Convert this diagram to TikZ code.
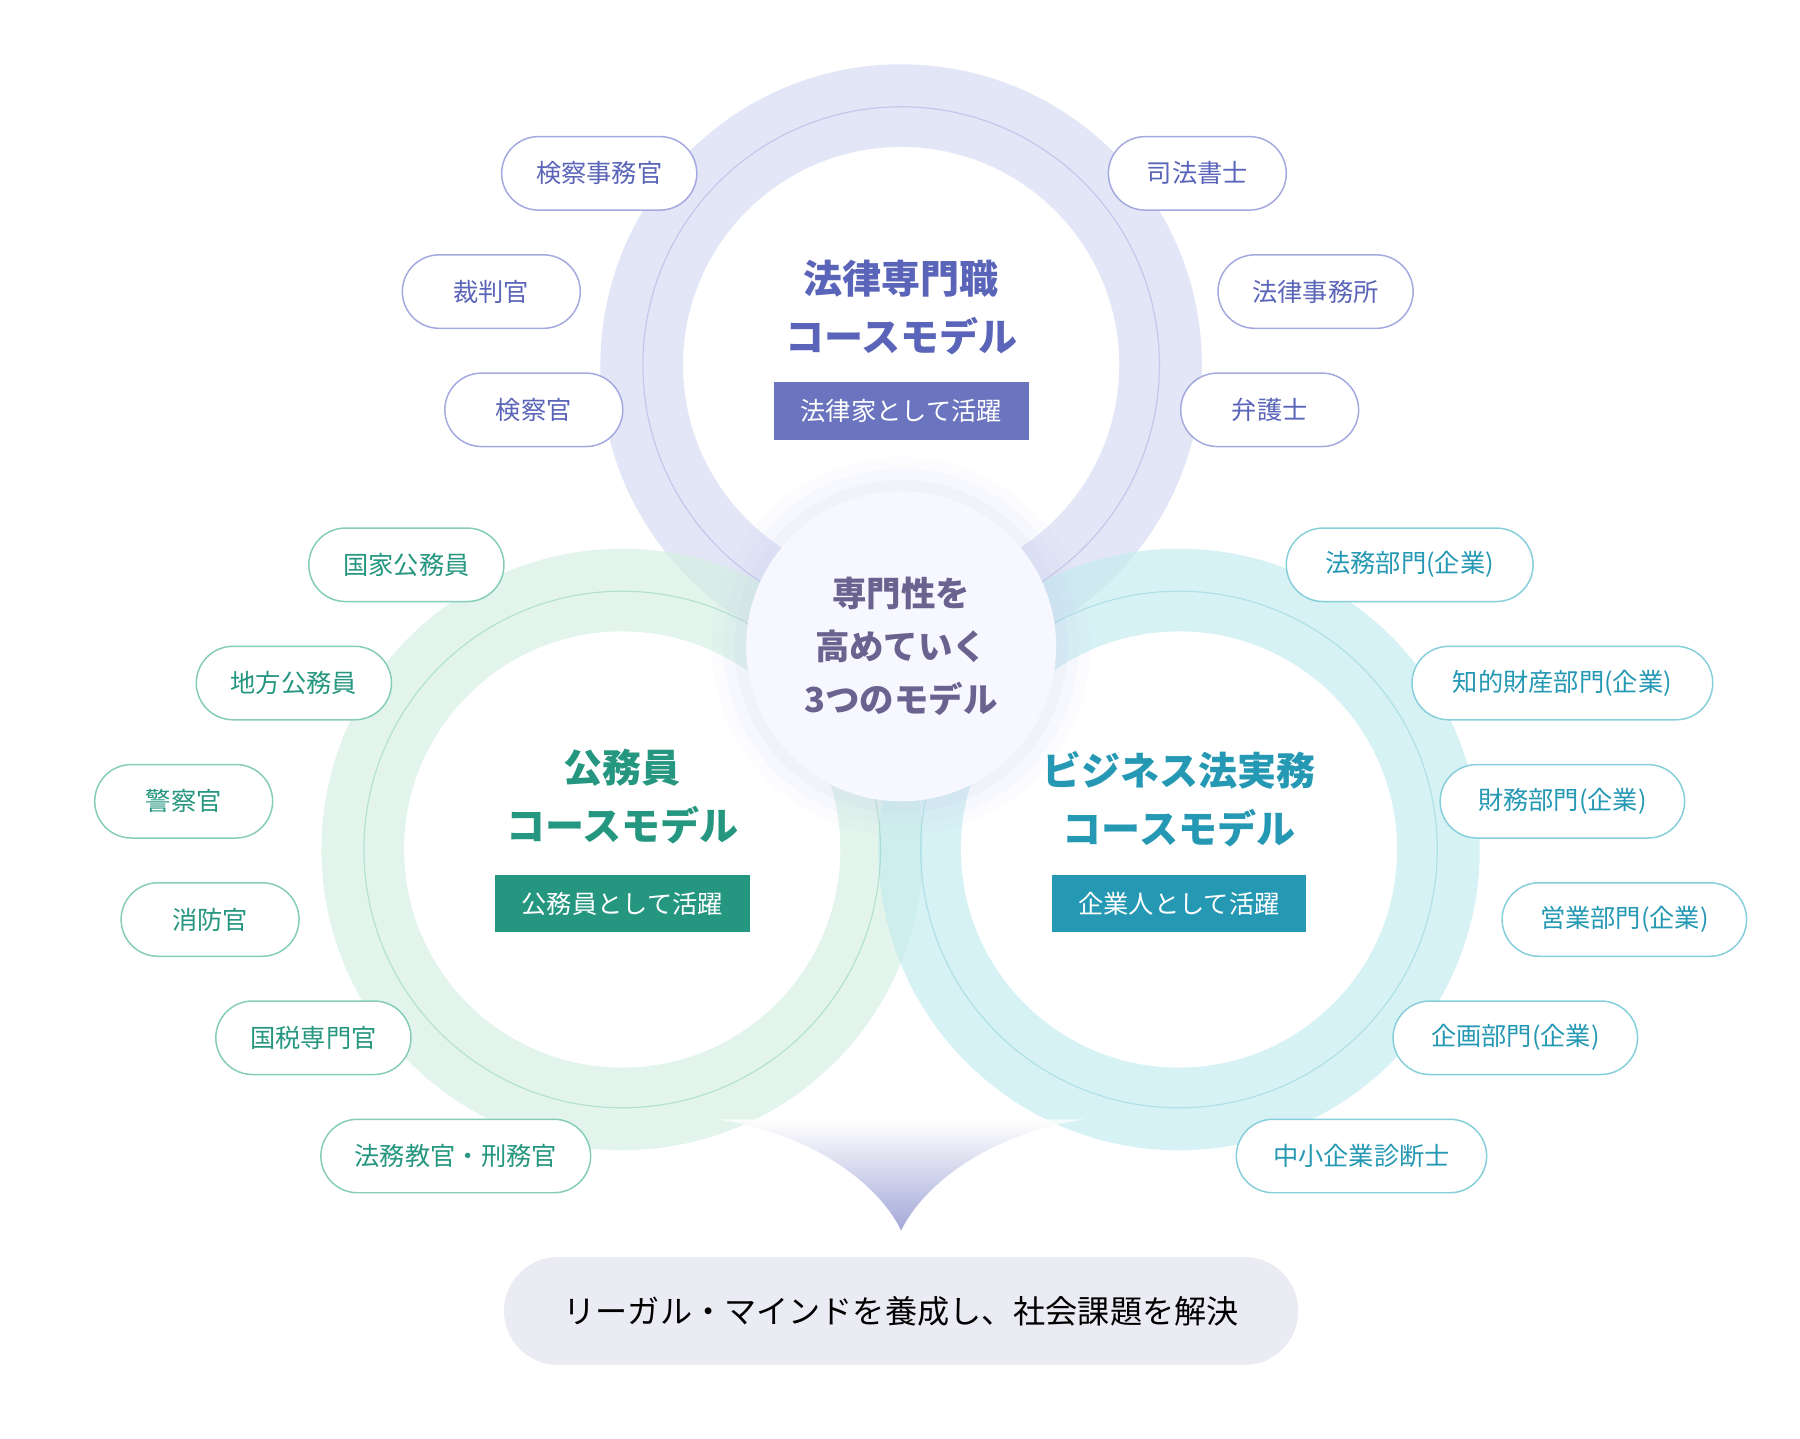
\documentclass[tikz,border=0pt]{standalone}
\usepackage{fontspec}
\setmainfont{Noto Sans CJK JP}
\usetikzlibrary{shapes.misc}
\definecolor{tpu}{HTML}{5A64B8}\definecolor{tpb}{HTML}{A4A9E0}
\definecolor{tgr}{HTML}{25967F}\definecolor{tgb}{HTML}{86CDB9}
\definecolor{tcy}{HTML}{2598B4}\definecolor{tcb}{HTML}{86CFDB}
\definecolor{rpu}{HTML}{D8DDF3}\definecolor{rgr}{HTML}{D5F0E2}\definecolor{rcy}{HTML}{C6ECEF}
\definecolor{btm}{HTML}{EBEBF4}\definecolor{ctx}{HTML}{6A628F}
\tikzset{
 pill/.style={draw=#1,line width=1.3pt,fill=white,rounded rectangle,minimum height=64pt,inner sep=0pt,font=\fontsize{22}{26}\selectfont},
 ppu/.style={pill=tpb,text=tpu},pgr/.style={pill=tgb,text=tgr},pcy/.style={pill=tcb,text=tcy},
 ttl/.style={font=\fontsize{34}{51}\selectfont\bfseries},
 tag/.style={fill=#1,text=white,minimum height=50pt,minimum width=222pt,inner sep=0pt,font=\fontsize{22}{26}\selectfont}
}
\begin{document}
\begin{tikzpicture}[x=1pt,y=-1pt]
\useasboundingbox (0,0) rectangle (1568,1253);
% rings
\draw[rpu,line width=72pt,opacity=0.75] (785,318) circle[radius=226];
\draw[rgr,line width=72pt,opacity=0.7] (542,740) circle[radius=226];
\draw[rcy,line width=72pt,opacity=0.7] (1027,740) circle[radius=226];
\draw[tpb,opacity=0.5,line width=1pt] (785,318) circle[radius=225];
\draw[tgb,opacity=0.5,line width=1pt] (542,740) circle[radius=225];
\draw[tcb,opacity=0.5,line width=1pt] (1027,740) circle[radius=225];
% funnel
\shade[top color=white,bottom color=tpu!70!white,opacity=0.8] (625,975) .. controls (720,990) and (770,1040) .. (785,1072) .. controls (800,1040) and (850,990) .. (945,975) -- cycle;
% center glow
\foreach \r/\o in {165/0.06,155/0.1,145/0.15}{\fill[cyan!40!blue!20,opacity=\o] (785,563) circle[radius=\r];}
\node[circle,fill=white!97!blue,minimum size=270pt,inner sep=0pt,align=center,text=ctx,font=\fontsize{30}{46}\selectfont\bfseries] (c) at (785,563) {専門性を\\高めていく\\3つのモデル};
% titles
\node[ttl,text=tpu,align=center] (t1) at (785,268) {法律専門職\\コースモデル};
\node[tag=tpu!90!white] (b1) at (785,358) {法律家として活躍};
\node[ttl,text=tgr,align=center] (t2) at (542,694) {公務員\\コースモデル};
\node[tag=tgr] (b2) at (542,787) {公務員として活躍};
\node[ttl,text=tcy,align=center] (t3) at (1027,696) {ビジネス法実務\\コースモデル};
\node[tag=tcy] (b3) at (1027,787) {企業人として活躍};
% pills
\node[ppu,minimum width=170pt] (p1) at (522,151) {検察事務官};
\node[ppu,minimum width=155pt] (p2) at (428,254) {裁判官};
\node[ppu,minimum width=155pt] (p3) at (465,357) {検察官};
\node[ppu,minimum width=155pt] (p4) at (1043,151) {司法書士};
\node[ppu,minimum width=170pt] (p5) at (1146,254) {法律事務所};
\node[ppu,minimum width=155pt] (p6) at (1106,357) {弁護士};
\node[pgr,minimum width=170pt] (g1) at (354,492) {国家公務員};
\node[pgr,minimum width=170pt] (g2) at (256,595) {地方公務員};
\node[pgr,minimum width=155pt] (g3) at (160,698) {警察官};
\node[pgr,minimum width=155pt] (g4) at (183,801) {消防官};
\node[pgr,minimum width=170pt] (g5) at (273,904) {国税専門官};
\node[pgr,minimum width=235pt] (g6) at (397,1007) {法務教官・刑務官};
\node[pcy,minimum width=215pt] (c1) at (1228,492) {法務部門(企業)};
\node[pcy,minimum width=262pt] (c2) at (1361,595) {知的財産部門(企業)};
\node[pcy,minimum width=213pt] (c3) at (1361,698) {財務部門(企業)};
\node[pcy,minimum width=213pt] (c4) at (1415,801) {営業部門(企業)};
\node[pcy,minimum width=213pt] (c5) at (1320,904) {企画部門(企業)};
\node[pcy,minimum width=218pt] (c6) at (1186,1007) {中小企業診断士};
% bottom
\node[rounded rectangle,fill=btm,minimum width=692pt,minimum height=94pt,inner sep=0pt,font=\fontsize{28}{32}\selectfont] (bt) at (785,1142) {リーガル・マインドを養成し、社会課題を解決};
\end{tikzpicture}
\end{document}
